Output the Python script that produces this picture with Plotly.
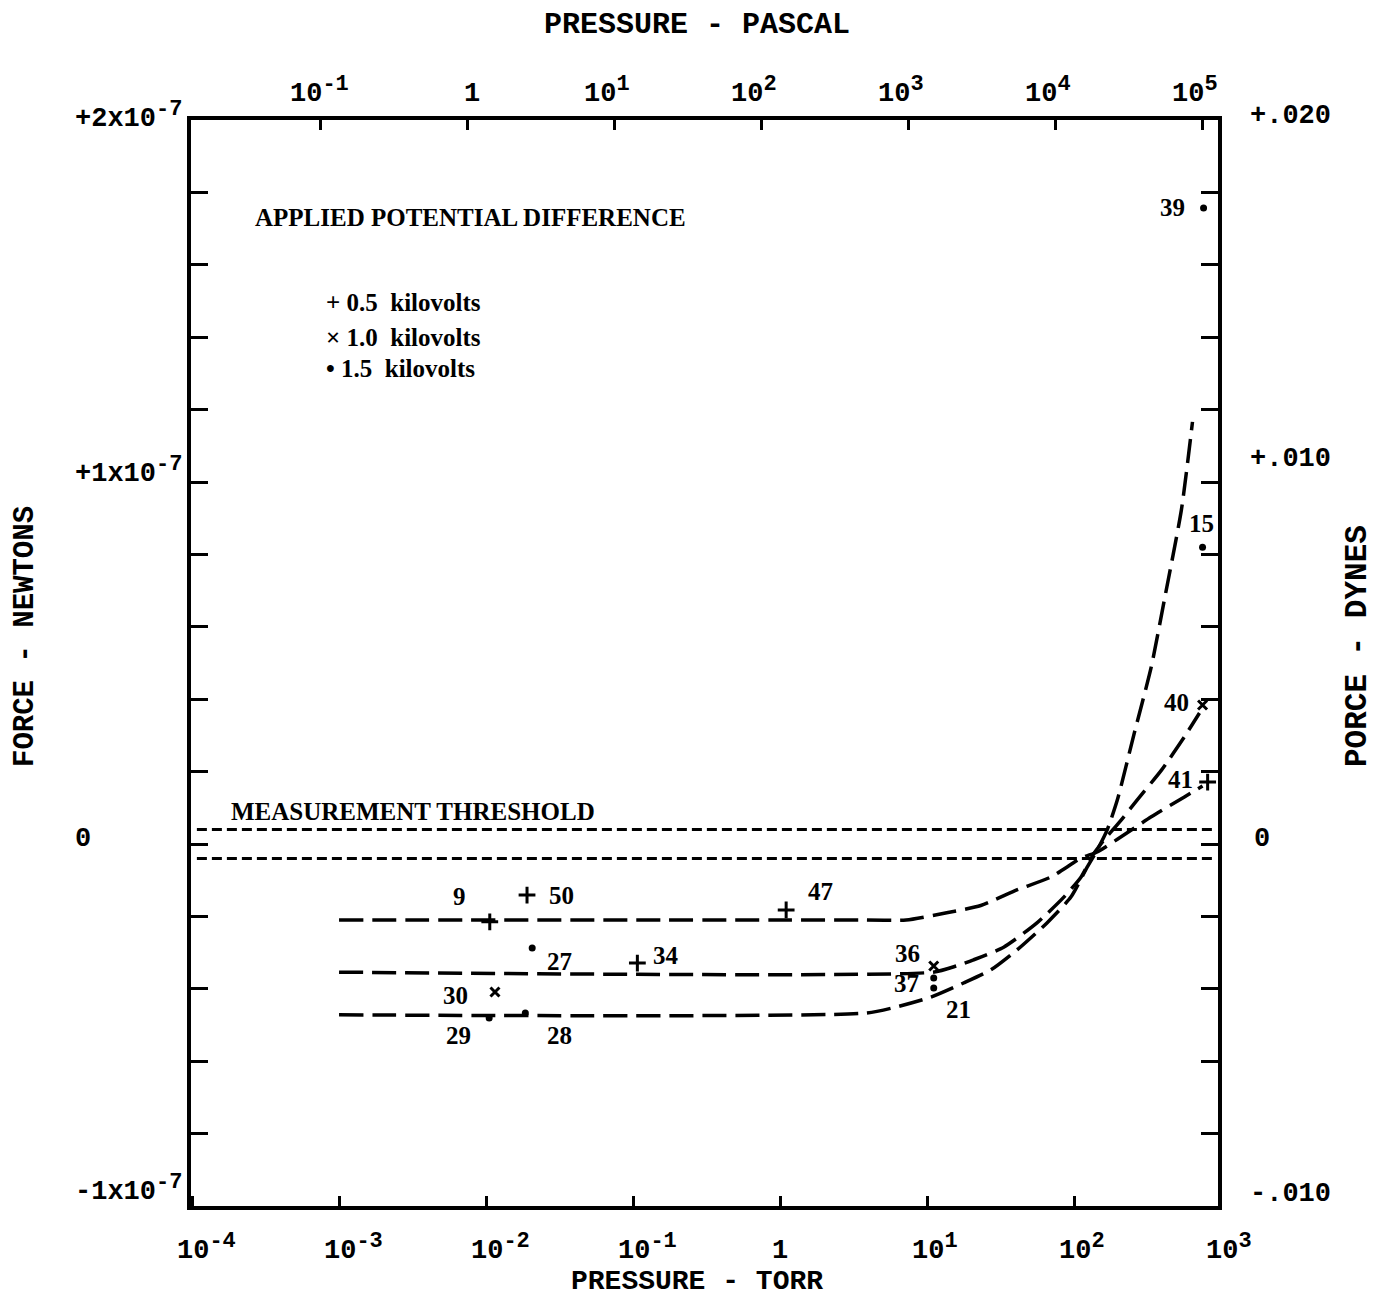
import math
import plotly.graph_objects as go

# ---------------- data ----------------
# pressure in torr, force in units of 1e-7 newton
curve_05kv_torr = [1e-3, 1.0, 3.7, 7.2, 13.6, 23.2, 40.8, 69.7, 111.6, 143.6, 197, 335, 563, 748]
curve_05kv_force = [-0.21, -0.21, -0.21, -0.21, -0.19, -0.17, -0.127, -0.091, -0.039, -0.022, 0.013, 0.075, 0.13, 0.16]

curve_10kv_torr = [1e-3, 11, 15.8, 20.7, 33.2, 55.9, 85.5, 111.6, 137, 160, 209, 269, 393, 563, 713]
curve_10kv_force = [-0.354, -0.354, -0.337, -0.32, -0.285, -0.218, -0.146, -0.091, -0.025, 0.011, 0.066, 0.122, 0.204, 0.296, 0.362]

curve_15kv_torr = [1e-3, 3.86, 6.2, 10.6, 17.7, 27.1, 40.8, 65.4, 95.4, 122.7, 143.6, 168, 197, 257, 335, 411, 537, 639]
curve_15kv_force = [-0.472, -0.467, -0.45, -0.423, -0.384, -0.348, -0.293, -0.218, -0.146, -0.064, -0.017, 0.039, 0.122, 0.307, 0.489, 0.674, 0.923, 1.166]

runs_05kv = ["9", "50", "47", "34", "41"]
pts_05kv_torr = [0.0106, 0.019, 1.1, 0.107, 810]
pts_05kv_force = [-0.215, -0.141, -0.182, -0.329, 0.171]

runs_10kv = ["30", "36", "40"]
pts_10kv_torr = [0.0115, 11.1, 748]
pts_10kv_force = [-0.409, -0.337, 0.384]

runs_15kv = ["39", "15", "27", "29", "28", "37", "21"]
pts_15kv_torr = [760, 748, 0.0206, 0.0105, 0.0185, 11.1, 11.1]
pts_15kv_force = [1.757, 0.82, -0.287, -0.481, -0.467, -0.37, -0.398]

threshold_force = 0.04  # +/- measurement threshold, 1e-7 N

torr_ticks = [1e-4, 1e-3, 1e-2, 1e-1, 1, 10, 100, 1000]
torr_tick_base = ["10", "10", "10", "10", "1", "10", "10", "10"]
torr_tick_exp = ["-4", "-3", "-2", "-1", "", "1", "2", "3"]
pascal_ticks = [1e-1, 1, 10, 100, 1e3, 1e4, 1e5]
pascal_tick_base = ["10", "1", "10", "10", "10", "10", "10"]
pascal_tick_exp = ["-1", "", "1", "2", "3", "4", "5"]
newton_ticks = [2, 1, 0, -1]
newton_tick_base = ["+2x10", "+1x10", "0", "-1x10"]
newton_tick_exp = ["-7", "-7", "", "-7"]
dyne_tick_text = ["+.020", "+.010", "0", "-.010"]

TORR_TO_PASCAL = 133.322

# ---------------- layout geometry / styles ----------------
W, H = 1380, 1300
OFF = 8  # page body margin of the html page
L, R, T, B = 191, 1218, 120, 1206      # plot area in page pixels
PW, PH = R - L, B - T
XRANGE = [-4.007, 2.979]
X2RANGE = [XRANGE[0] + math.log10(TORR_TO_PASCAL), XRANGE[1] + math.log10(TORR_TO_PASCAL)]
YRANGE = [-1, 2]

def px(x):
    return (x - L) / PW

def py(y):
    return (B - y) / PH

def log_paper(v, rng):
    return (math.log10(v) - rng[0]) / (rng[1] - rng[0])

def tick_label(base, exp):
    if not exp:
        return f"<b>{base}</b>"
    return f"<b>{base}<sup><span style='font-size:22px'>{exp}</span></sup></b>"

MONO = "Liberation Mono"
SERIF = "Liberation Serif"
INK = "black"

label_offsets = {  # pixel offsets of run numbers from their marker (dx, dy up)
    "9": (-30, 25), "50": (34, 0), "47": (34, 18), "34": (29, 8), "41": (-27, 3),
    "30": (-39, -3), "36": (-26, 12), "40": (-26, 2),
    "39": (-31, 0), "15": (-1, 24), "27": (27, -14), "29": (-31, -17), "28": (34, -22),
    "37": (-27, -6), "21": (25, -21),
}

fig = go.Figure()

dash_long = "24px,9px"
for xs, ys, name in [(curve_05kv_torr, curve_05kv_force, "0.5 kV"),
                     (curve_10kv_torr, curve_10kv_force, "1.0 kV"),
                     (curve_15kv_torr, curve_15kv_force, "1.5 kV")]:
    fig.add_trace(go.Scatter(x=xs, y=ys, mode="lines", name=name, showlegend=False,
                             line=dict(color=INK, width=3.5, dash=dash_long, shape="spline", smoothing=0.6),
                             hoverinfo="skip"))

# measurement threshold lines
for s in (1, -1):
    fig.add_trace(go.Scatter(x=[10 ** (XRANGE[0] + 0.04), 10 ** (XRANGE[1] - 0.03)],
                             y=[s * threshold_force] * 2, mode="lines", showlegend=False,
                             line=dict(color=INK, width=3.2, dash="10px,5px"), hoverinfo="skip"))

marker_styles = [
    (runs_05kv, pts_05kv_torr, pts_05kv_force, dict(symbol="cross-thin", size=12, line=dict(width=3, color=INK), color=INK)),
    (runs_10kv, pts_10kv_torr, pts_10kv_force, dict(symbol="x-thin", size=9, line=dict(width=3, color=INK), color=INK)),
    (runs_15kv, pts_15kv_torr, pts_15kv_force, dict(symbol="circle", size=7, color=INK)),
]
annotations = []
for runs, xs, ys, mk in marker_styles:
    fig.add_trace(go.Scatter(x=xs, y=ys, mode="markers", marker=mk, showlegend=False,
                             text=runs, hovertemplate="run %{text}<extra></extra>"))
    for r, x, y in zip(runs, xs, ys):
        dx, dy = label_offsets[r]
        annotations.append(dict(x=math.log10(x), y=y, xref="x", yref="y", text=f"<b>{r}</b>",
                                showarrow=False, xanchor="center", yanchor="middle",
                                xshift=dx, yshift=dy, font=dict(family=SERIF, size=25, color=INK)))

# invisible trace on the pascal axis so the top axis is drawn
fig.add_trace(go.Scatter(x=[t * TORR_TO_PASCAL for t in curve_05kv_torr], y=curve_05kv_force,
                         xaxis="x2", mode="lines", line=dict(width=0), opacity=0,
                         showlegend=False, hoverinfo="skip"))

tick_font = dict(family=MONO, size=27, color=INK)
half10 = 17
for v, b, e in zip(torr_ticks, torr_tick_base, torr_tick_exp):
    a = dict(x=log_paper(v, XRANGE), y=0, xref="paper", yref="paper", text=tick_label(b, e),
             showarrow=False, xanchor="center", yanchor="bottom", yshift=-62, font=tick_font)
    if b == "10":
        a.update(xanchor="left", xshift=-half10)
    annotations.append(a)
for v, b, e in zip(pascal_ticks, pascal_tick_base, pascal_tick_exp):
    a = dict(x=log_paper(v, X2RANGE), y=1, xref="paper", yref="paper", text=tick_label(b, e),
             showarrow=False, xanchor="center", yanchor="bottom", yshift=9, font=tick_font)
    if b == "10":
        a.update(xanchor="left", xshift=-half10 - 16)
    else:
        a.update(xshift=4)
    annotations.append(a)

left_yshift = [-16, -9, -12, -3]
right_yshift = [-13, 6, -12, -5]
for v, b, e, s in zip(newton_ticks, newton_tick_base, newton_tick_exp, left_yshift):
    a = dict(y=v, xref="paper", yref="y", text=tick_label(b, e), showarrow=False,
             yanchor="bottom", yshift=s, font=tick_font)
    if b == "0":
        a.update(x=px(83), xanchor="center")
    else:
        a.update(x=px(73), xanchor="left")
    annotations.append(a)
for v, t, s in zip(newton_ticks, dyne_tick_text, right_yshift):
    a = dict(y=v, xref="paper", yref="y", text=f"<b>{t}</b>", showarrow=False,
             yanchor="bottom", yshift=s, font=tick_font)
    if t == "0":
        a.update(x=px(1262), xanchor="center")
    else:
        a.update(x=px(1248), xanchor="left")
    annotations.append(a)

annotations += [
    dict(x=px(697), y=py(25), text="<b>PRESSURE - PASCAL</b>", font=dict(family=MONO, size=30, color=INK)),
    dict(x=px(697), y=py(1281), text="<b>PRESSURE - TORR</b>", font=dict(family=MONO, size=28, color=INK)),
    dict(x=px(25), y=py(637), text="<b>FORCE - NEWTONS</b>", textangle=-90,
         font=dict(family=MONO, size=29, color=INK)),
    dict(x=px(1357), y=py(646), text="<b>PORCE - DYNES</b>", textangle=-90,
         font=dict(family=MONO, size=31, color=INK)),
]
for a in annotations[-4:]:
    a.update(xref="paper", yref="paper", showarrow=False, xanchor="center", yanchor="middle")

head_font = dict(family=SERIF, size=25, color=INK)
annotations += [
    dict(x=px(253), y=py(217), xref="paper", yref="paper", text="<b>APPLIED POTENTIAL DIFFERENCE</b>",
         showarrow=False, xanchor="left", yanchor="middle", font=head_font),
    dict(x=px(229), y=py(811), xref="paper", yref="paper", text="<b>MEASUREMENT THRESHOLD</b>",
         showarrow=False, xanchor="left", yanchor="middle", font=head_font),
]
legend_rows = [("+", "0.5"), ("\u00d7", "1.0"), ("\u2022", "1.5")]
legend_y = [302, 337, 368]
for (sym, kv), yy in zip(legend_rows, legend_y):
    annotations.append(dict(x=px(324), y=py(yy), xref="paper", yref="paper",
                            text=f"<b>{sym} {kv}\u00a0 kilovolts</b>", showarrow=False,
                            xanchor="left", yanchor="middle",
                            font=dict(family=SERIF, size=25, color=INK)))

fig.update_layout(
    width=W - OFF, height=H - OFF,
    margin=dict(l=L - OFF, r=W - R, t=T - OFF, b=H - B, pad=0),
    paper_bgcolor="white", plot_bgcolor="white",
    showlegend=False,
    xaxis=dict(type="log", range=XRANGE, showline=True, linewidth=4, linecolor=INK, mirror=True,
               ticks="inside", ticklen=10, tickwidth=3, tickcolor=INK, tickvals=torr_ticks,
               showticklabels=False, showgrid=False, zeroline=False),
    xaxis2=dict(type="log", overlaying="x", side="top", anchor="y", range=X2RANGE,
                showline=False, ticks="inside", ticklen=10, tickwidth=3, tickcolor=INK,
                tickvals=pascal_ticks, showticklabels=False, showgrid=False, zeroline=False),
    yaxis=dict(range=YRANGE, showline=True, linewidth=4, linecolor=INK, mirror="ticks",
               ticks="inside", ticklen=17, tickwidth=3, tickcolor=INK, tick0=0, dtick=0.2,
               showticklabels=False, showgrid=False, zeroline=False),
    annotations=annotations,
)

fig.write_html("out.html")
